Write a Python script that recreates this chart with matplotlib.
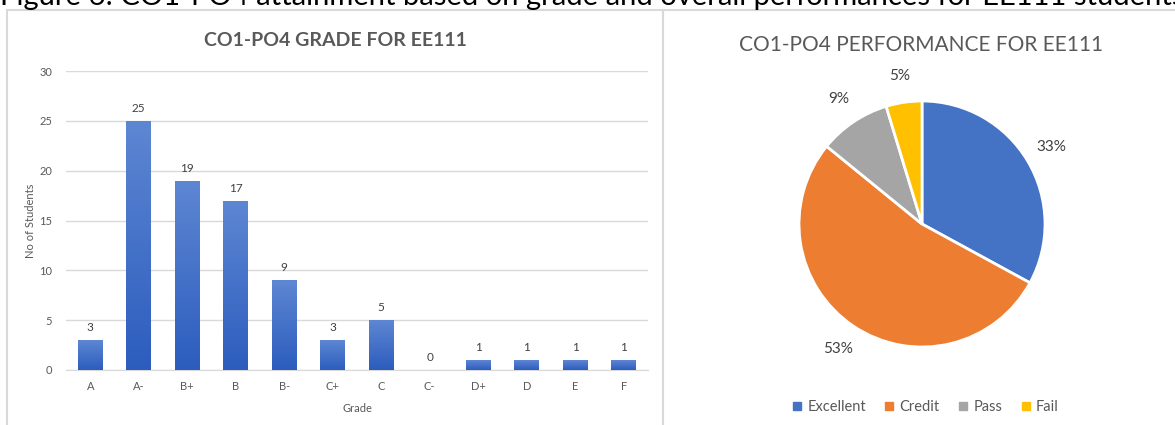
import numpy as np
import matplotlib
matplotlib.use("Agg")
import matplotlib.pyplot as plt
from matplotlib.patches import Rectangle
from matplotlib.lines import Line2D

plt.rcParams['font.family'] = ['Lato', 'DejaVu Sans']

# bar chart data
grades = ['A', 'A-', 'B+', 'B', 'B-', 'C+', 'C', 'C-', 'D+', 'D', 'E', 'F']
students = [3, 25, 19, 17, 9, 3, 5, 0, 1, 1, 1, 1]

# pie chart data
perf_labels = ['Excellent', 'Credit', 'Pass', 'Fail']
perf_counts = [28, 45, 8, 4]
perf_colors = ['#4472C4', '#ED7D31', '#A5A5A5', '#FFC000']

caption = 'Figure 6: CO1-PO4 attainment based on grade and overall performances for EE111 students'

W, H = 1175, 425
fig = plt.figure(figsize=(W / 100, H / 100), dpi=100)

# caption, cut off at top of the image (as in the source screenshot)
fig.text(0.0, 1 - 4.5 / H, caption, fontsize=21, color='black', va='baseline', ha='left')

# panel frames
frame_col = '#D9D9D9'
fig.add_artist(Rectangle((7 / W, -0.05), (663 - 7) / W, 1 - 10 / H + 0.05,
                         transform=fig.transFigure, fill=False, ec=frame_col, lw=1.5))
fig.add_artist(Rectangle((663 / W, -0.05), 0.5, 1 - 10 / H + 0.05,
                         transform=fig.transFigure, fill=False, ec=frame_col, lw=1.5))

# ---- bar chart ----
ax = fig.add_axes([66 / W, 1 - 370 / H, (648 - 66) / W, 299 / H])
x = np.arange(len(grades))
bars = ax.bar(x, students, width=0.51, color='none', zorder=3)

grad = np.linspace(0, 1, 256).reshape(-1, 1)
cmap = matplotlib.colors.LinearSegmentedColormap.from_list('g', ['#2C5DBE', '#5E87D3'])
for b in bars:
    h = b.get_height()
    if h <= 0:
        continue
    im = ax.imshow(grad, cmap=cmap, aspect='auto', origin='lower',
                   extent=[b.get_x(), b.get_x() + b.get_width(), 0, h], zorder=3)
    im.set_clip_path(b)

for xi, v in zip(x, students):
    ax.text(xi, v + 0.7, str(v), ha='center', va='bottom', fontsize=8.5, color='#404040')

ax.set_xlim(-0.5, len(grades) - 0.5)
ax.set_ylim(0, 30)
ax.set_yticks(range(0, 31, 5))
ax.set_xticks(x)
ax.set_xticklabels(grades)
ax.yaxis.grid(True, color='#D9D9D9', lw=1)
ax.set_axisbelow(True)
for s in ['top', 'right', 'left']:
    ax.spines[s].set_visible(False)
ax.spines['bottom'].set_color('#D9D9D9')
ax.tick_params(length=0, labelsize=8, labelcolor='#595959')
ax.tick_params(axis='y', pad=10)
ax.tick_params(axis='x', pad=8)
ax.set_xlabel('Grade', fontsize=8, color='#595959', labelpad=8)
ax.set_ylabel('No of Students', fontsize=8, color='#595959', labelpad=2)
fig.text(335 / W, 1 - 40 / H, 'CO1-PO4 GRADE FOR EE111', fontsize=14, fontweight='bold',
         color='#595959', ha='center', va='center')

# ---- pie chart ----
pax = fig.add_axes([(922 - 123) / W, 1 - (224 + 123) / H, 246 / W, 246 / H])
wedges, texts, autotexts = pax.pie(perf_counts, colors=perf_colors, startangle=90,
                                   counterclock=False, autopct='%1.0f%%', pctdistance=1.22,
                                   wedgeprops=dict(edgecolor='white', linewidth=2))
for t in autotexts:
    t.set_fontsize(11)
    t.set_color('#404040')
pax.set_xlim(-1, 1)
pax.set_ylim(-1, 1)
pax.set_aspect('equal')
fig.text(921 / W, 1 - 45 / H, 'CO1-PO4 PERFORMANCE FOR EE111', fontsize=15,
         color='#595959', ha='center', va='center')

handles = [Line2D([], [], marker='s', ls='none', markersize=5.5, color=c) for c in perf_colors]
fig.legend(handles, perf_labels, loc='center', bbox_to_anchor=(925 / W, 1 - 407 / H),
           ncol=4, frameon=False, fontsize=10.5, labelcolor='#595959',
           handlelength=0.8, handletextpad=0.3, columnspacing=1.2)

fig.savefig('out.png', dpi=100)
